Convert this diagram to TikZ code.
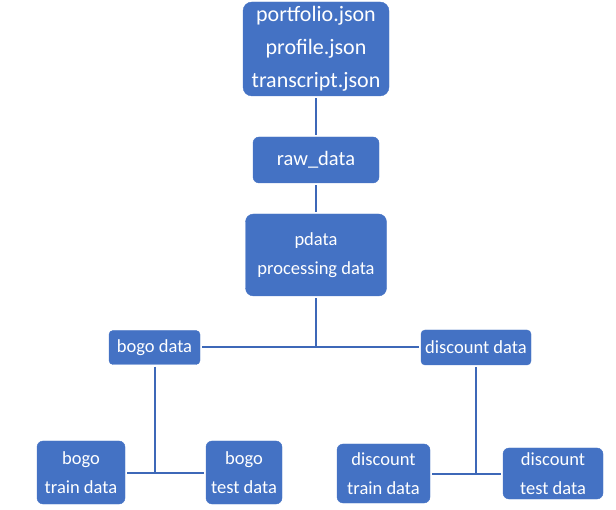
\documentclass[tikz,border=0pt]{standalone}
\usepackage{fontspec}
\setmainfont{Carlito}
\usepackage{tikz}
\usetikzlibrary{calc,shapes,positioning}

\definecolor{boxblue}{HTML}{4472C4}
\definecolor{lineblue}{HTML}{3D68B8}

\begin{document}
\begin{tikzpicture}[
    x = 1pt,
    y = -1pt
  ]
  \tikzstyle{block} = [
    draw = boxblue, fill = boxblue, rectangle,
    rounded corners = 6pt,
    text           = white,
    text centered,
    align          = center,
    inner sep      = 0pt,
    font           = \fontsize{18.5}{28.5}\selectfont
  ]
  \tikzstyle{line}   = [draw, lineblue, line width = 2pt, shorten <= 2pt]
  \tikzstyle{link}   = [line, shorten >= 2pt]

  \useasboundingbox (0,0) rectangle (616,510);

  \node [block, minimum width = 146pt, minimum height = 94pt, rounded corners = 9pt,
         font = \fontsize{22}{33}\selectfont] at (316,49)     (files)  {portfolio.json \\ profile.json \\ transcript.json};
  \node [block, minimum width = 126pt, minimum height = 46pt,
         font = \fontsize{20.5}{30}\selectfont] at (316,160)  (rawdata) {raw\_data};
  \node [block, minimum width = 141pt, minimum height = 82pt, rounded corners = 8pt] at (316,255) (pdata) {pdata \\ processing data};

  \node [block, minimum width = 91pt,  minimum height = 34pt, rounded corners = 4pt] at (154.5,347.5) (bogo)  {bogo data};
  \node [block, minimum width = 110pt, minimum height = 35pt, rounded corners = 4pt] at (476,347.5)   (disc)  {discount data};

  \node [block, minimum width = 88pt,  minimum height = 63pt] at (81,472.5)    (bogotrain) {bogo \\ train data};
  \node [block, minimum width = 76pt,  minimum height = 63pt] at (244,472.5)   (bogotest)  {bogo \\ test data};
  \node [block, minimum width = 93pt,  minimum height = 59pt] at (383.5,473.5) (disctrain) {discount \\ train data};
  \node [block, minimum width = 100pt, minimum height = 51pt] at (553,473.5)   (disctest)  {discount \\ test data};

  \coordinate (split)     at (pdata |- bogo);
  \coordinate (bogosplit) at (bogo |- bogotrain);
  \coordinate (discsplit) at (disc |- disctrain);

  \path [link] (files)   -- (rawdata);
  \path [link] (rawdata) -- (pdata);
  \path [line] (pdata)   -- (split);
  \path [link] (bogo)    -- (disc);

  \path [line] (bogo)      -- (bogosplit);
  \path [link] (bogotrain) -- (bogotest);
  \path [line] (disc)      -- (discsplit);
  \path [link] (disctrain) -- (disctest);
\end{tikzpicture}
\end{document}
